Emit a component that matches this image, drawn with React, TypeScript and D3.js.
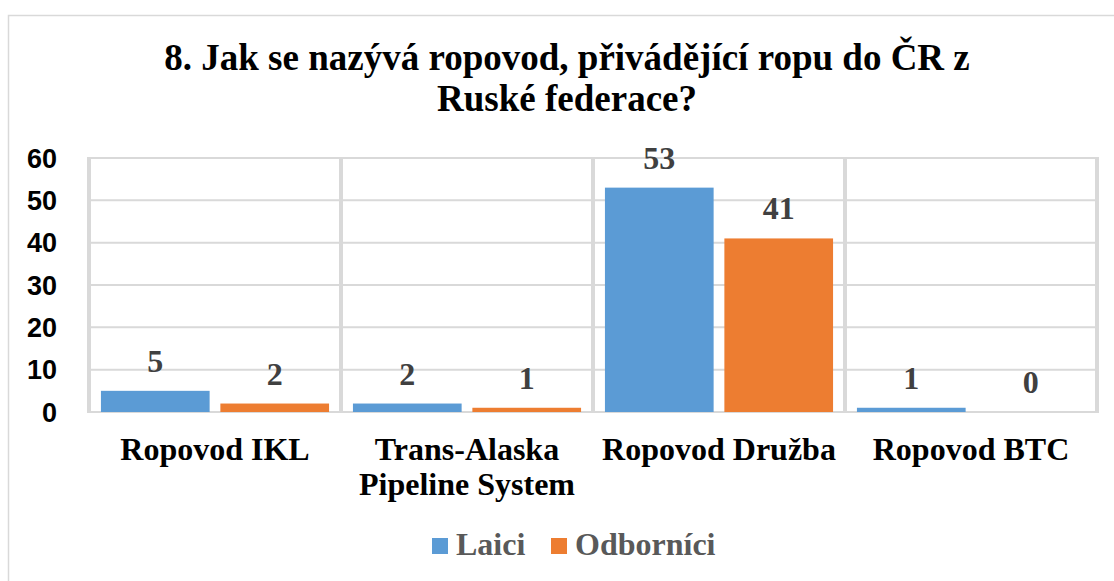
import React, { useRef, useEffect } from 'react';
import * as d3 from 'd3';

const categories = ['Ropovod IKL', 'Trans-Alaska Pipeline System', 'Ropovod Družba', 'Ropovod BTC'];
const categoryLines = [['Ropovod IKL'], ['Trans-Alaska', 'Pipeline System'], ['Ropovod Družba'], ['Ropovod BTC']];
const series = ['Laici', 'Odborníci'];
const laici = [5, 2, 53, 1];
const odbornici = [2, 1, 41, 0];
const yTicks = [0, 10, 20, 30, 40, 50, 60];
const titleLines = ['8. Jak se nazývá ropovod, přivádějící ropu do ČR z', 'Ruské federace?'];
const colors = ['#5b9bd5', '#ed7d31'];

const W = 1114;
const H = 581;
const SERIF = '"Liberation Serif", "Times New Roman", serif';
const SANS = '"Liberation Sans", Arial, sans-serif';

export default function App() {
  const svgRef = useRef<SVGSVGElement>(null);

  useEffect(() => {
    if (!svgRef.current) return;
    const svg = d3.select(svgRef.current);
    svg.selectAll('*').remove();

    const values = [laici, odbornici];
    const plot = { left: 89, right: 1097, top: 158, bottom: 412 };

    const x0 = d3.scaleBand().domain(categories).range([plot.left, plot.right]).padding(0);
    const x1 = d3.scaleBand().domain(series).range([0, x0.bandwidth()]).paddingInner(0.09).paddingOuter(0.1);
    const y = d3.scaleLinear().domain([0, 60]).range([plot.bottom, plot.top]);

    svg.append('rect').attr('width', W).attr('height', H).attr('fill', '#fff');

    // chart frame
    svg.append('rect')
      .attr('x', 8.5).attr('y', 15.5)
      .attr('width', W + 20).attr('height', H + 20)
      .attr('fill', 'none').attr('stroke', '#d9d9d9').attr('stroke-width', 1.5);

    // title
    svg.append('text')
      .attr('text-anchor', 'middle')
      .attr('font-family', SERIF).attr('font-weight', 'bold').attr('font-size', 37)
      .attr('fill', '#000')
      .selectAll('tspan').data(titleLines).join('tspan')
      .attr('x', 567).attr('y', (d, i) => 70 + i * 41)
      .text((d) => d);

    // horizontal gridlines
    svg.append('g').selectAll('line').data(yTicks).join('line')
      .attr('x1', plot.left).attr('x2', plot.right)
      .attr('y1', (d) => y(d)).attr('y2', (d) => y(d))
      .attr('stroke', '#d9d9d9').attr('stroke-width', 2);

    // category separators
    const seps = categories.map((c) => x0(c) as number).concat([plot.right]);
    svg.append('g').selectAll('line').data(seps).join('line')
      .attr('x1', (d) => d).attr('x2', (d) => d)
      .attr('y1', plot.top - 1).attr('y2', plot.bottom + 1)
      .attr('stroke', '#d9d9d9').attr('stroke-width', 4);

    // y tick labels
    svg.append('g').selectAll('text').data(yTicks).join('text')
      .attr('x', 57).attr('y', (d) => y(d)).attr('dy', '0.36em')
      .attr('text-anchor', 'end')
      .attr('font-family', SANS).attr('font-weight', 'bold').attr('font-size', 27)
      .attr('fill', '#000')
      .text((d) => d);

    // bars and value labels
    series.forEach((s, si) => {
      const g = svg.append('g');
      g.selectAll('rect').data(categories).join('rect')
        .attr('x', (c) => (x0(c) as number) + (x1(s) as number))
        .attr('y', (c, i) => y(values[si][i]))
        .attr('width', x1.bandwidth())
        .attr('height', (c, i) => y(0) - y(values[si][i]))
        .attr('fill', colors[si]);
      g.selectAll('text').data(categories).join('text')
        .attr('x', (c) => (x0(c) as number) + (x1(s) as number) + x1.bandwidth() / 2)
        .attr('y', (c, i) => y(values[si][i]) - 19)
        .attr('text-anchor', 'middle')
        .attr('font-family', SERIF).attr('font-weight', 'bold').attr('font-size', 32)
        .attr('fill', '#404040')
        .text((c, i) => values[si][i]);
    });

    // category labels
    const cat = svg.append('g');
    categories.forEach((c, ci) => {
      cat.append('text')
        .attr('text-anchor', 'middle')
        .attr('font-family', SERIF).attr('font-weight', 'bold').attr('font-size', 32)
        .attr('fill', '#000')
        .selectAll('tspan').data(categoryLines[ci]).join('tspan')
        .attr('x', (x0(c) as number) + x0.bandwidth() / 2)
        .attr('y', (d, i) => 460 + i * 35)
        .text((d) => d);
    });

    // legend
    const legendX = [432, 551];
    series.forEach((s, si) => {
      svg.append('rect')
        .attr('x', legendX[si]).attr('y', 538).attr('width', 16).attr('height', 16)
        .attr('fill', colors[si]);
      svg.append('text')
        .attr('x', legendX[si] + 24).attr('y', 555)
        .attr('font-family', SERIF).attr('font-weight', 'bold').attr('font-size', 32)
        .attr('fill', '#595959')
        .text(s);
    });
  }, []);

  return (
    <svg
      ref={svgRef}
      width={W}
      height={H}
      style={{ position: 'absolute', left: 0, top: 0, display: 'block' }}
    />
  );
}
